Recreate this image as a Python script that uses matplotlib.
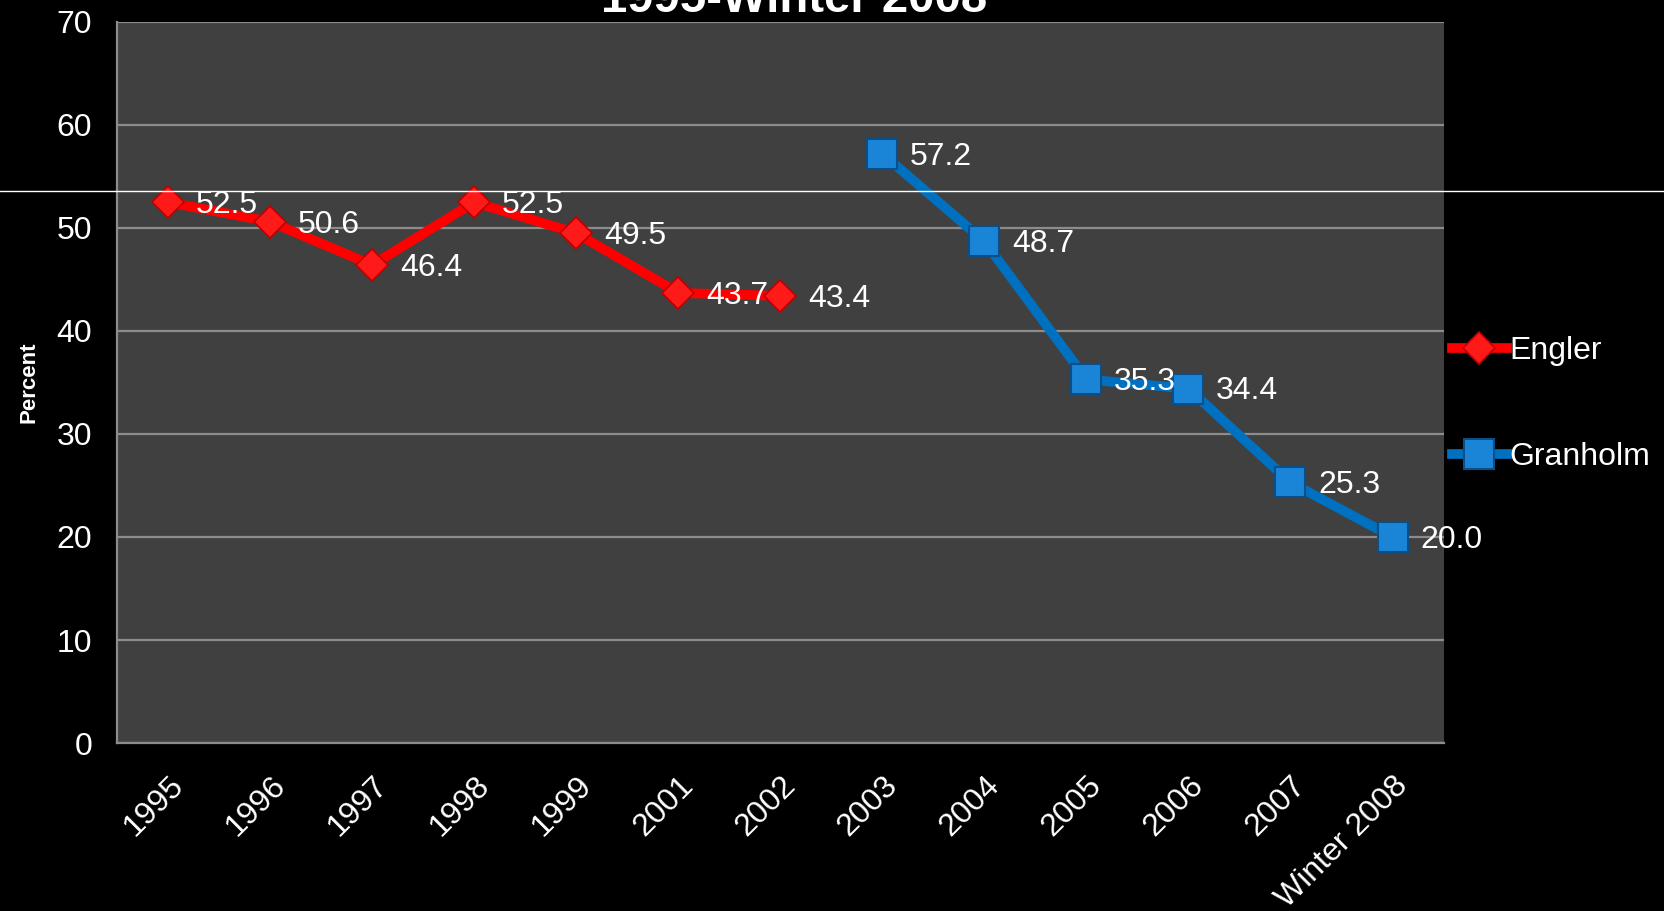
import numpy as np
import matplotlib.pyplot as plt
from matplotlib.lines import Line2D

# categories along the x axis
years = ["1995", "1996", "1997", "1998", "1999", "2001", "2002",
         "2003", "2004", "2005", "2006", "2007", "Winter 2008"]

# approval percentages (None = no value for that year)
engler = [52.5, 50.6, 46.4, 52.5, 49.5, 43.7, 43.4,
          None, None, None, None, None, None]
granholm = [None, None, None, None, None, None, None,
            57.2, 48.7, 35.3, 34.4, 25.3, 20.0]

y_ticks = [0, 10, 20, 30, 40, 50, 60, 70]

plt.rcParams['font.family'] = ['Liberation Sans', 'DejaVu Sans']

fig = plt.figure(figsize=(16.65, 9.11), dpi=100, facecolor='black')
ax = fig.add_axes([0.0703, 0.1844, 0.7967, 0.7915], facecolor='#404040')

x = np.arange(len(years))
eng = np.array([np.nan if v is None else v for v in engler])
gra = np.array([np.nan if v is None else v for v in granholm])

ax.plot(x, eng, color='#ff0000', lw=7, marker='D', ms=16,
        mfc='#ff1a1a', mec='#c00000', mew=1.2, label='Engler', zorder=3)
ax.plot(x, gra, color='#0070c0', lw=7, marker='s', ms=21,
        mfc='#1a85d6', mec='#0b4f8a', mew=1.5, label='Granholm', zorder=3)

# data labels to the right of each point
for series in (eng, gra):
    for xi, v in zip(x, series):
        if np.isnan(v):
            continue
        ax.annotate(f"{v:.1f}", (xi, v), xytext=(20, -2), textcoords='offset points',
                    color='white', fontsize=23, ha='left', va='center', zorder=4)

ax.set_xlim(-0.5, len(years) - 0.5)
ax.set_ylim(0, 70)
ax.set_yticks(y_ticks)
ax.set_xticks(x)
ax.set_xticklabels(years, rotation=45, ha='right', rotation_mode='anchor')
ax.tick_params(axis='both', colors='white', labelsize=23, length=0)
ax.tick_params(axis='x', pad=20)
ax.tick_params(axis='y', pad=18)
for lbl in ax.get_yticklabels():
    lbl.set_color('white')
for lbl in ax.get_xticklabels():
    lbl.set_color('white')

ax.grid(axis='y', color='#8c8c8c', lw=1.6)
ax.set_axisbelow(True)
for side in ('top', 'right'):
    ax.spines[side].set_visible(False)
for side in ('left', 'bottom'):
    ax.spines[side].set_color('#8c8c8c')
    ax.spines[side].set_linewidth(1.6)

ax.set_ylabel("Percent", color='white', fontsize=16, fontweight='bold', labelpad=12)

leg = ax.legend(loc='center left', bbox_to_anchor=(1.006, 0.47), frameon=False,
                fontsize=23, labelspacing=2.4, handlelength=1.75,
                handletextpad=0.05, borderaxespad=0.0, borderpad=0.0)
for t in leg.get_texts():
    t.set_color('white')

# title is cut off by the top edge in the original
fig.text(0.477, 0.987, "1995-Winter 2008", color='white', fontsize=34,
         fontweight='bold', ha='center', va='baseline')

# thin white line running across the whole picture
fig.add_artist(Line2D([0, 1], [0.790, 0.790], color='white', lw=1,
                      transform=fig.transFigure))

fig.savefig("out.png", dpi=100, facecolor='black')
